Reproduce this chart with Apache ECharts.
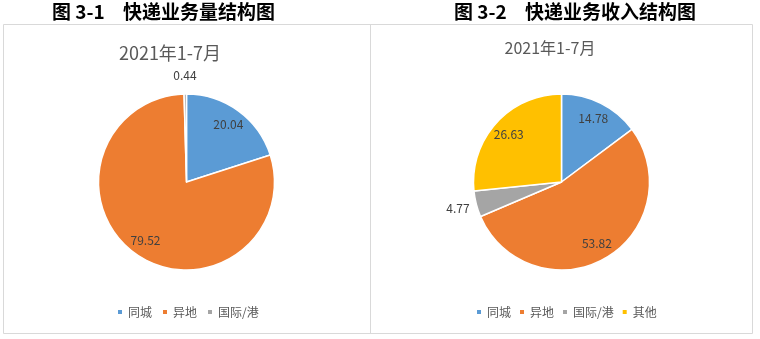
<!DOCTYPE html>
<html>
<head>
<meta charset="utf-8">
<script src="https://cdn.jsdelivr.net/npm/echarts@6/dist/echarts.min.js"></script>
<style>
html,body{margin:0;padding:0;background:#fff;}
#c{width:760px;height:339px;}
</style>
</head>
<body>
<div id="c"></div>
<script>
const title1 = ['图 3-1', '快递业务量结构图'];
const title2 = ['图 3-2', '快递业务收入结构图'];
const subtitle = '2021年1-7月';
const cats1 = ['同城', '异地', '国际/港'];
const vals1 = [20.04, 79.52, 0.44];
const cats2 = ['同城', '异地', '国际/港', '其他'];
const vals2 = [14.78, 53.82, 4.77, 26.63];
const palette = ['#5B9BD5', '#ED7D31', '#A5A5A5', '#FFC000'];

const FONT = '"Noto Sans CJK SC", "Noto Sans", sans-serif';
const R = 88;

function mainData(cats, vals) {
  return cats.map((n, i) => ({ name: n, value: vals[i], itemStyle: { color: palette[i] } }));
}
function labelData(cats, vals, outer) {
  return cats.map((n, i) => {
    const isSmall = vals[i] < 5;
    return { name: n, value: vals[i], label: { show: outer ? isSmall : !isSmall } };
  });
}
function pieSeries(cats, vals, cx) {
  return [{
    type: 'pie', center: [cx, 182], radius: [0, R], startAngle: 90, clockwise: true,
    data: mainData(cats, vals), label: { show: false }, labelLine: { show: false },
    itemStyle: { borderColor: '#fff', borderWidth: 1.5 }, emphasis: { disabled: true }, animation: false
  }];
}
function overlaySeries(cats, vals, cx) {
  const base = {
    type: 'pie', center: [cx, 182], startAngle: 90, clockwise: true, silent: true, animation: false,
    itemStyle: { color: 'rgba(0,0,0,0)', borderWidth: 0 }, labelLine: { show: false },
    emphasis: { disabled: true },
    label: { position: 'inside', formatter: (p) => p.value.toFixed(2), color: '#404040', fontSize: 12, fontFamily: FONT, rotate: 0 }
  };
  return [
    Object.assign({}, base, { radius: [48, R], data: labelData(cats, vals, false) }),
    Object.assign({}, base, { radius: [R + 6, R + 26], data: labelData(cats, vals, true) })
  ];
}

const chart = echarts.init(document.getElementById('c'), null, { renderer: 'canvas' });
const titleStyle = { fill: '#000', fontSize: 19, fontWeight: 'bold', fontFamily: FONT };
chart.setOption({
  backgroundColor: '#fff',
  animation: false,
  graphic: [
    { type: 'rect', shape: { x: 3.5, y: 24.5, width: 749, height: 309 }, style: { fill: 'none', stroke: '#D9D9D9', lineWidth: 1 }, silent: true },
    { type: 'line', shape: { x1: 370.5, y1: 24.5, x2: 370.5, y2: 333.5 }, style: { stroke: '#D9D9D9', lineWidth: 1 }, silent: true },
    { type: 'text', x: 52, y: 12, style: Object.assign({ text: title1[0], textVerticalAlign: 'middle' }, titleStyle) },
    { type: 'text', x: 123, y: 12, style: Object.assign({ text: title1[1], textVerticalAlign: 'middle' }, titleStyle) },
    { type: 'text', x: 454, y: 12, style: Object.assign({ text: title2[0], textVerticalAlign: 'middle' }, titleStyle) },
    { type: 'text', x: 525, y: 12, style: Object.assign({ text: title2[1], textVerticalAlign: 'middle' }, titleStyle) },
    { type: 'text', x: 170, y: 53, style: { text: subtitle, textAlign: 'center', textVerticalAlign: 'middle', fill: '#595959', fontSize: 18, fontFamily: FONT } },
    { type: 'text', x: 550, y: 48, style: { text: subtitle, textAlign: 'center', textVerticalAlign: 'middle', fill: '#595959', fontSize: 16, fontFamily: FONT } }
  ],
  legend: [
    { data: cats1, left: 116, top: 306, padding: 0, icon: 'rect', itemWidth: 6, itemHeight: 6, itemGap: 9,
      textStyle: { color: '#595959', fontSize: 12, fontFamily: FONT }, selectedMode: false },
    { data: cats2, left: 475, top: 306, padding: 0, icon: 'rect', itemWidth: 6, itemHeight: 6, itemGap: 7,
      textStyle: { color: '#595959', fontSize: 12, fontFamily: FONT }, selectedMode: false }
  ],
  series: [].concat(
    pieSeries(cats1, vals1, 186.5),
    pieSeries(cats2, vals2, 561.5),
    overlaySeries(cats1, vals1, 186.5),
    overlaySeries(cats2, vals2, 561.5)
  )
});
</script>
</body>
</html>
